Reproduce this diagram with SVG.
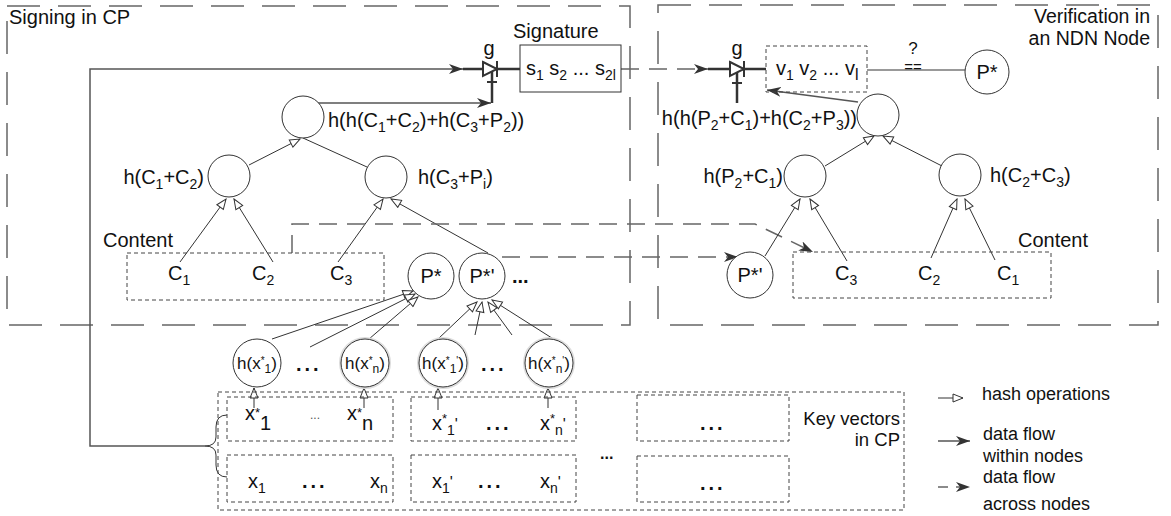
<svg xmlns="http://www.w3.org/2000/svg" width="1171" height="516" viewBox="0 0 1171 516">
<defs>
<marker id="hollow" viewBox="0 0 12 10" refX="11" refY="5" markerWidth="12" markerHeight="10" orient="auto" markerUnits="userSpaceOnUse"><path d="M1,1 L11,5 L1,9 z" fill="#fff" stroke="#333" stroke-width="1"/></marker>
<marker id="solid" viewBox="0 0 14 10" refX="14" refY="5" markerWidth="14" markerHeight="10" orient="auto" markerUnits="userSpaceOnUse"><path d="M0,0 L14,5 L0,10 L4,5 z" fill="#333"/></marker>
</defs>
<style>
.t{font-family:"Liberation Sans",Arial,Helvetica,sans-serif;font-size:20px;fill:#111}
.sm{font-size:14px}
.lg{font-size:18px}
.box{fill:none;stroke:#666;stroke-width:1.5;stroke-dasharray:33 18}
.dbox{fill:none;stroke:#444;stroke-width:1;stroke-dasharray:4 3}
.node{fill:#fff;stroke:#333;stroke-width:1}
.halo{fill:none;stroke:#ddd;stroke-width:2}
.hash{fill:none;stroke:#333;stroke-width:1;marker-end:url(#hollow)}
.flow{fill:none;stroke:#555;stroke-width:1.5;marker-end:url(#solid)}
.thick{fill:none;stroke:#333;stroke-width:2.5}
.across{fill:none;stroke:#666;stroke-width:1.5;stroke-dasharray:18 10}
.dots{font-weight:bold;letter-spacing:3px}
</style>
<rect width="1171" height="516" fill="#fff"/>

<g id="signing-cp">
<rect class="box" x="7" y="6" width="623" height="319"/>
<text class="t" x="9" y="24">Signing in CP</text>
</g>
<g id="verification-ndn">
<rect class="box" x="658" y="5" width="500" height="320"/>
<text class="t" x="1150" y="23" text-anchor="end" style="font-size:19.5px">Verification in</text>
<text class="t" x="1150" y="45" text-anchor="end" style="font-size:19.5px">an NDN Node</text>
</g>

<g id="connectors">
<polyline class="flow" points="205,446 90,446 90,69 463,69"/>
<line class="thick" x1="463" y1="69" x2="520" y2="69"/>
<line class="thick" x1="492" y1="72" x2="492" y2="103"/>
<line class="thick" x1="487" y1="82" x2="497" y2="82" style="stroke-width:2"/>
<line class="flow" x1="318" y1="103" x2="491" y2="103"/>
<line class="across" x1="621" y1="69" x2="708" y2="69" style="marker-end:url(#solid)"/>
<line class="thick" x1="708" y1="69" x2="766" y2="69"/>
<line class="thick" x1="737" y1="72" x2="737" y2="103"/>
<line class="thick" x1="732" y1="83" x2="742" y2="83" style="stroke-width:2"/>
<line x1="867" y1="70" x2="965" y2="70" stroke="#777" stroke-width="1.5"/>
<line class="flow" x1="858" y1="102" x2="767" y2="90"/>
<line class="hash" x1="249" y1="165" x2="300" y2="139"/>
<line x1="303" y1="138" x2="367" y2="167" stroke="#333" stroke-width="1"/>
<line class="hash" x1="180" y1="262" x2="226" y2="199"/>
<line class="hash" x1="273" y1="262" x2="234" y2="199"/>
<line class="hash" x1="338" y1="262" x2="383" y2="199"/>
<line class="hash" x1="488" y1="253" x2="391" y2="199"/>
<line class="hash" x1="272" y1="339" x2="413" y2="291"/>
<line class="hash" x1="310" y1="347" x2="415" y2="294"/>
<line class="hash" x1="369" y1="339" x2="418" y2="297"/>
<line class="hash" x1="438" y1="339" x2="477" y2="302"/>
<line class="hash" x1="475" y1="335" x2="482" y2="302"/>
<line class="hash" x1="512" y1="335" x2="488" y2="302"/>
<line class="hash" x1="555" y1="340" x2="492" y2="300"/>
<line class="hash" x1="254" y1="408" x2="254" y2="388"/>
<line class="hash" x1="364" y1="408" x2="364" y2="388"/>
<line class="hash" x1="438" y1="410" x2="438" y2="388"/>
<line class="hash" x1="548" y1="408" x2="548" y2="388"/>
<polyline class="across" points="292,253 292,224 755,224 813,252" style="marker-end:url(#solid)"/>
<line class="across" x1="502" y1="257" x2="738" y2="257" style="marker-end:url(#solid)"/>
<line class="hash" x1="825" y1="166" x2="874" y2="136"/>
<line class="hash" x1="942" y1="166" x2="883" y2="136"/>
<line class="hash" x1="765" y1="256" x2="800" y2="199"/>
<line class="hash" x1="847" y1="261" x2="810" y2="199"/>
<line class="hash" x1="931" y1="258" x2="957" y2="199"/>
<line class="hash" x1="995" y1="260" x2="965" y2="199"/>
</g>

<g id="brace">
<path d="M227,415 Q216,415 216,427 L216,437 Q216,446 205,446 Q216,446 216,455 L216,465 Q216,477 227,477" fill="none" stroke="#333" stroke-width="1"/>
</g>

<g id="g-left">
<text class="t" x="489" y="55" text-anchor="middle">g</text>
<polygon points="483,62 497,69 483,76" fill="#fff" stroke="#333" stroke-width="2"/>
<line x1="497" y1="61" x2="497" y2="77" stroke="#333" stroke-width="2"/>
</g>
<g id="g-right">
<text class="t" x="737" y="55" text-anchor="middle">g</text>
<polygon points="730,62 744,69 730,76" fill="#fff" stroke="#333" stroke-width="2"/>
<line x1="744" y1="61" x2="744" y2="77" stroke="#333" stroke-width="2"/>
</g>

<g id="signature">
<text class="t" x="513" y="38">Signature</text>
<rect x="520" y="45" width="101" height="47" fill="#fff" stroke="#333" stroke-width="1"/>
<text class="t" x="526" y="75">s<tspan class="sm" dy="5">1</tspan><tspan dy="-5"> s</tspan><tspan class="sm" dy="5">2</tspan><tspan dy="-5"> ... s</tspan><tspan class="sm" dy="5">2l</tspan></text>
</g>

<g id="v-box">
<rect class="dbox" x="766" y="46" width="101" height="46" fill="#fff"/>
<text class="t" x="776" y="75">v<tspan class="sm" dy="5">1</tspan><tspan dy="-5"> v</tspan><tspan class="sm" dy="5">2</tspan><tspan dy="-5"> ... v</tspan><tspan class="sm" dy="5" style="font-size:16px">l</tspan></text>
</g>

<g id="compare">
<text class="t" x="913" y="54" text-anchor="middle" style="font-size:17px">?</text>
<text class="t" x="913" y="72" text-anchor="middle" style="font-size:15px">==</text>
</g>

<g id="pstar-right">
<circle class="node" cx="987" cy="72" r="22"/>
<text class="t" x="987" y="79" text-anchor="middle">P*</text>
</g>

<g id="root-left">
<circle class="node" cx="303" cy="117" r="21"/>
<text class="t" x="328" y="127">h(h(C<tspan class="sm" dy="5">1</tspan><tspan dy="-5">+C</tspan><tspan class="sm" dy="5">2</tspan><tspan dy="-5">)+h(C</tspan><tspan class="sm" dy="5">3</tspan><tspan dy="-5">+P</tspan><tspan class="sm" dy="5">2</tspan><tspan dy="-5">))</tspan></text>
</g>
<g id="h-c1c2">
<circle class="node" cx="229" cy="176" r="21"/>
<text class="t" x="204" y="184" text-anchor="end">h(C<tspan class="sm" dy="5">1</tspan><tspan dy="-5">+C</tspan><tspan class="sm" dy="5">2</tspan><tspan dy="-5">)</tspan></text>
</g>
<g id="h-c3pi">
<circle class="node" cx="386" cy="177" r="21"/>
<text class="t" x="418" y="184">h(C<tspan class="sm" dy="5">3</tspan><tspan dy="-5">+P</tspan><tspan class="sm" dy="5">i</tspan><tspan dy="-5">)</tspan></text>
</g>

<g id="content-left">
<text class="t" x="103" y="247">Content</text>
<rect class="dbox" x="127" y="253" width="257" height="47"/>
<text class="t" x="168" y="280">C<tspan class="sm" dy="5">1</tspan></text>
<text class="t" x="252" y="280">C<tspan class="sm" dy="5">2</tspan></text>
<text class="t" x="330" y="280">C<tspan class="sm" dy="5">3</tspan></text>
</g>
<g id="pstar-left">
<circle class="node" cx="431" cy="276" r="23"/>
<text class="t" x="431" y="283" text-anchor="middle">P*</text>
</g>
<g id="pstar2-left">
<circle class="node" cx="482" cy="276" r="23"/>
<text class="t" x="482" y="283" text-anchor="middle">P*'</text>
<text class="t dots" x="512" y="283" style="letter-spacing:0px">...</text>
</g>

<g id="root-right">
<circle class="node" cx="878" cy="115" r="21"/>
<text class="t" x="857" y="125" text-anchor="end">h(h(P<tspan class="sm" dy="5">2</tspan><tspan dy="-5">+C</tspan><tspan class="sm" dy="5">1</tspan><tspan dy="-5">)+h(C</tspan><tspan class="sm" dy="5">2</tspan><tspan dy="-5">+P</tspan><tspan class="sm" dy="5">3</tspan><tspan dy="-5">))</tspan></text>
</g>
<g id="h-p2c1">
<circle class="node" cx="805" cy="176" r="21"/>
<text class="t" x="783" y="183" text-anchor="end">h(P<tspan class="sm" dy="5">2</tspan><tspan dy="-5">+C</tspan><tspan class="sm" dy="5">1</tspan><tspan dy="-5">)</tspan></text>
</g>
<g id="h-c2c3">
<circle class="node" cx="960" cy="175" r="21"/>
<text class="t" x="990" y="182">h(C<tspan class="sm" dy="5">2</tspan><tspan dy="-5">+C</tspan><tspan class="sm" dy="5">3</tspan><tspan dy="-5">)</tspan></text>
</g>
<g id="pstar2-right">
<circle class="node" cx="750" cy="275" r="23"/>
<text class="t" x="750" y="282" text-anchor="middle">P*'</text>
</g>
<g id="content-right">
<text class="t" x="1018" y="247">Content</text>
<rect class="dbox" x="793" y="252" width="258" height="46"/>
<text class="t" x="835" y="280">C<tspan class="sm" dy="5">3</tspan></text>
<text class="t" x="918" y="280">C<tspan class="sm" dy="5">2</tspan></text>
<text class="t" x="997" y="280">C<tspan class="sm" dy="5">1</tspan></text>
</g>

<g id="hx1">
<circle class="node" cx="257" cy="363" r="24"/>
<text class="t" x="257" y="369" text-anchor="middle" style="font-size:17px">h(x<tspan style="font-size:10px" dy="-5">*</tspan><tspan style="font-size:12px" dy="9">1</tspan><tspan dy="-4">)</tspan></text>
</g>
<g id="hxn">
<circle class="halo" cx="365" cy="363" r="25"/>
<circle class="node" cx="365" cy="363" r="24"/>
<text class="t" x="365" y="369" text-anchor="middle" style="font-size:17px">h(x<tspan style="font-size:10px" dy="-5">*</tspan><tspan style="font-size:12px" dy="9">n</tspan><tspan dy="-4">)</tspan></text>
</g>
<text class="t dots" x="296" y="371">...</text>
<g id="hx1p">
<circle class="halo" cx="443" cy="363" r="25"/>
<circle class="node" cx="443" cy="363" r="24"/>
<text class="t" x="443" y="369" text-anchor="middle" style="font-size:17px">h(x<tspan style="font-size:10px" dy="-5">*</tspan><tspan style="font-size:12px" dy="9">1</tspan><tspan style="font-size:10px" dy="-9">'</tspan><tspan dy="5">)</tspan></text>
</g>
<text class="t dots" x="481" y="371">...</text>
<g id="hxnp">
<circle class="halo" cx="549" cy="363" r="25"/>
<circle class="node" cx="549" cy="363" r="24"/>
<text class="t" x="549" y="369" text-anchor="middle" style="font-size:17px">h(x<tspan style="font-size:10px" dy="-5">*</tspan><tspan style="font-size:12px" dy="9">n</tspan><tspan style="font-size:10px" dy="-9">'</tspan><tspan dy="5">)</tspan></text>
</g>

<g id="key-vectors">
<rect class="dbox" x="218" y="392" width="686" height="118"/>
<rect class="dbox" x="227" y="397" width="166" height="44"/>
<rect class="dbox" x="411" y="397" width="165" height="44"/>
<rect class="dbox" x="637" y="395" width="152" height="46"/>
<rect class="dbox" x="227" y="455" width="166" height="47"/>
<rect class="dbox" x="411" y="455" width="165" height="47"/>
<rect class="dbox" x="637" y="456" width="152" height="46"/>
<text class="t" x="245" y="420">x<tspan style="font-size:13px" dy="-3">*</tspan><tspan dy="13">1</tspan></text>
<text class="t" x="310" y="419" style="font-size:12px;fill:#555">...</text>
<text class="t" x="347" y="420">x<tspan style="font-size:13px" dy="-3">*</tspan><tspan dy="13">n</tspan></text>
<text class="t" x="432" y="430">x<tspan style="font-size:13px" dy="-7">*</tspan><tspan class="sm" dy="12">1</tspan><tspan style="font-size:16px" dy="-5">'</tspan></text>
<text class="t dots" x="486" y="430">...</text>
<text class="t" x="540" y="430">x<tspan style="font-size:13px" dy="-7">*</tspan><tspan class="sm" dy="12">n</tspan><tspan style="font-size:16px" dy="-5">'</tspan></text>
<text class="t dots" x="700" y="430">...</text>
<text class="t" x="248" y="488">x<tspan class="sm" dy="5">1</tspan></text>
<text class="t dots" x="302" y="488">...</text>
<text class="t" x="370" y="488">x<tspan class="sm" dy="5">n</tspan></text>
<text class="t" x="432" y="488">x<tspan class="sm" dy="5">1</tspan><tspan style="font-size:16px" dy="-5">'</tspan></text>
<text class="t dots" x="478" y="488">...</text>
<text class="t" x="540" y="488">x<tspan class="sm" dy="5">n</tspan><tspan style="font-size:16px" dy="-5">'</tspan></text>
<text class="t dots" x="700" y="490">...</text>
<text class="t" x="600" y="459" style="font-size:16px;font-weight:bold">...</text>
<text class="t lg" x="900" y="425" text-anchor="end" style="font-size:18.5px">Key vectors</text>
<text class="t lg" x="900" y="446" text-anchor="end" style="font-size:18.5px">in CP</text>
</g>

<g id="legend">
<line class="hash" x1="938" y1="398" x2="963" y2="398"/>
<text class="t lg" x="982" y="400">hash operations</text>
<line class="flow" x1="938" y1="441" x2="970" y2="441"/>
<text class="t lg" x="983" y="440">data flow</text>
<text class="t lg" x="983" y="462">within nodes</text>
<line class="across" x1="938" y1="487" x2="970" y2="487" style="stroke-dasharray:10 8;marker-end:url(#solid)"/>
<text class="t lg" x="983" y="483">data flow</text>
<text class="t lg" x="983" y="510">across nodes</text>
</g>
</svg>
